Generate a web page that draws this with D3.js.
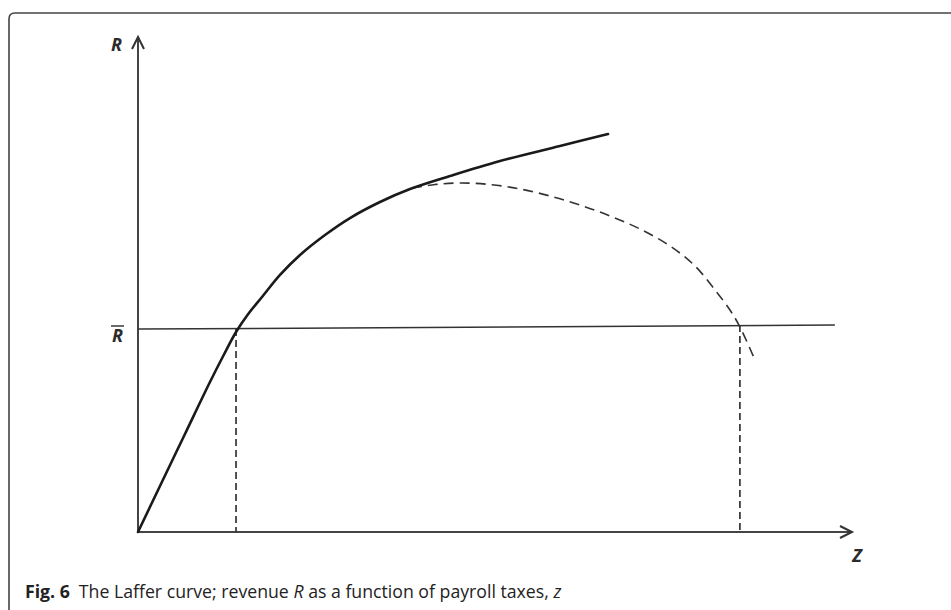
<!DOCTYPE html>
<html>
<head>
<meta charset="utf-8">
<script src="https://cdn.jsdelivr.net/npm/d3@7"></script>
<style>
  html, body { margin: 0; padding: 0; background: #fff; }
  svg { display: block; }
</style>
</head>
<body>
<svg id="chart" width="951" height="610"></svg>
<script>
// ---- Data (axis units: z 0..100, R 0..100) ----
const solidZ = [0, 3.08, 6.58, 10.08, 12.04, 13.73, 15.41, 17.37, 19.89, 22.69, 26.19, 29.69, 33.89, 38.10, 43.70, 50.70, 59.10, 65.83];
const solidR = [0, 9.29, 19.80, 30.30, 35.86, 40.40, 44.00, 47.47, 51.92, 55.96, 60.00, 63.43, 66.67, 69.29, 71.92, 74.95, 77.98, 80.40];

const dashZ = [38.38, 41.60, 45.10, 49.30, 53.50, 57.70, 61.90, 66.11, 70.31, 74.51, 78.01, 80.81, 82.91, 84.31, 86.41];
const dashR = [69.49, 70.20, 70.51, 70.20, 69.29, 67.88, 66.06, 63.84, 61.21, 57.78, 53.74, 48.89, 44.85, 41.41, 34.75];

const rbarZ = [0, 97.6];
const rbarR = [41.0, 41.8];

const dropZ = [13.73, 84.3];
const dropR = [41.0, 41.8];

const axisLabels = { y: "R", x: "Z", rbar: "R" };
const captionBold = "Fig. 6";
const captionText = "The Laffer curve; revenue ";
const captionItalic = "R";
const captionText2 = " as a function of payroll taxes, ";
const captionItalic2 = "z";

// ---- Layout ----
const svg = d3.select("#chart");
const x = d3.scaleLinear().domain([0, 100]).range([138, 852]);
const y = d3.scaleLinear().domain([0, 100]).range([532, 37]);
const ink = "#2b2b2b";

// frame (rounded top-left corner, open right/bottom)
const r = 6;
svg.append("path")
  .attr("d", `M9,610 L9,${13 + r} Q9,13 ${9 + r},13 L951,13`)
  .attr("fill", "none").attr("stroke", "#444").attr("stroke-width", 1.6);

// axes
svg.append("line").attr("x1", x(0)).attr("y1", y(0)).attr("x2", x(0)).attr("y2", y(100))
  .attr("stroke", "#444").attr("stroke-width", 2);
svg.append("line").attr("x1", x(0)).attr("y1", y(0)).attr("x2", x(100)).attr("y2", y(0))
  .attr("stroke", "#444").attr("stroke-width", 2);
// arrowheads
svg.append("path")
  .attr("d", `M${x(0) - 6},${y(100) + 12} L${x(0)},${y(100)} L${x(0) + 6},${y(100) + 12}`)
  .attr("fill", "none").attr("stroke", "#333").attr("stroke-width", 2);
svg.append("path")
  .attr("d", `M${x(100) - 12},${y(0) - 6} L${x(100)},${y(0)} L${x(100) - 12},${y(0) + 6}`)
  .attr("fill", "none").attr("stroke", "#333").attr("stroke-width", 2);

// R-bar horizontal line
const lineGen = d3.line().x(d => x(d[0])).y(d => y(d[1]));
svg.append("path")
  .attr("d", lineGen(rbarZ.map((z, i) => [z, rbarR[i]])))
  .attr("fill", "none").attr("stroke", "#333").attr("stroke-width", 1.5);

// vertical drop lines
dropZ.forEach((z, i) => {
  svg.append("line")
    .attr("x1", x(z)).attr("y1", y(dropR[i])).attr("x2", x(z)).attr("y2", y(0))
    .attr("stroke", "#333").attr("stroke-width", 1.7)
    .attr("stroke-dasharray", "7,4");
});

// curves
const curveGen = d3.line().x(d => x(d[0])).y(d => y(d[1])).curve(d3.curveCatmullRom.alpha(0.5));
svg.append("path")
  .attr("d", curveGen(dashZ.map((z, i) => [z, dashR[i]])))
  .attr("fill", "none").attr("stroke", "#333").attr("stroke-width", 1.6)
  .attr("stroke-dasharray", "10,6");
svg.append("path")
  .attr("d", curveGen(solidZ.map((z, i) => [z, solidR[i]])))
  .attr("fill", "none").attr("stroke", "#1a1a1a").attr("stroke-width", 2.6)
  .attr("stroke-linecap", "round");

// labels
const font = "'Open Sans', 'Noto Sans', sans-serif";
svg.append("text").attr("x", 122).attr("y", 51).attr("text-anchor", "end")
  .attr("font-family", font).attr("font-weight", "bold").attr("font-style", "italic")
  .attr("font-size", 18).attr("fill", ink).text(axisLabels.y);
svg.append("text").attr("x", 857).attr("y", 562).attr("text-anchor", "middle")
  .attr("font-family", font).attr("font-weight", "bold").attr("font-style", "italic")
  .attr("font-size", 18).attr("fill", ink).text(axisLabels.x);
svg.append("text").attr("x", 123).attr("y", 342).attr("text-anchor", "end")
  .attr("font-family", font).attr("font-weight", "bold").attr("font-style", "italic")
  .attr("font-size", 18).attr("fill", ink).text(axisLabels.rbar);
svg.append("line").attr("x1", 111).attr("x2", 124).attr("y1", 326).attr("y2", 326)
  .attr("stroke", ink).attr("stroke-width", 1.4);

// caption
const cap = svg.append("text").attr("x", 25).attr("y", 598)
  .attr("font-family", font).attr("font-size", 17.7).attr("fill", "#222");
cap.append("tspan").attr("font-weight", "bold").text(captionBold);
cap.append("tspan").attr("dx", 9).text(captionText);
cap.append("tspan").attr("font-style", "italic").text(captionItalic);
cap.append("tspan").text(captionText2);
cap.append("tspan").attr("font-style", "italic").text(captionItalic2);
</script>
</body>
</html>
